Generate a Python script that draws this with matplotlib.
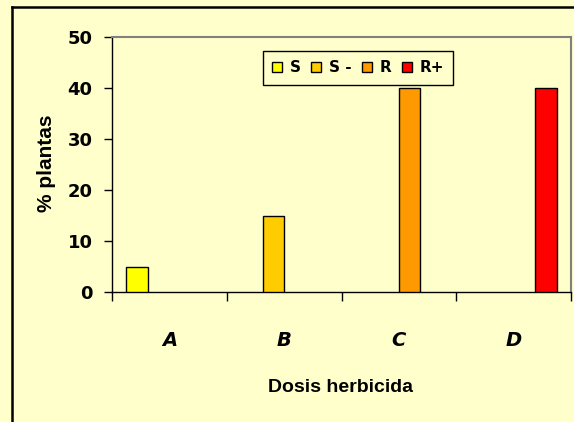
import numpy as np
import matplotlib
matplotlib.use("Agg")
import matplotlib.pyplot as plt
from matplotlib.lines import Line2D
from matplotlib.patches import Patch

# data
categories = ["A", "B", "C", "D"]
series = ["S", "S -", "R", "R+"]
values_S = [5, 0, 0, 0]
values_Sm = [0, 15, 0, 0]
values_R = [0, 0, 40, 0]
values_Rp = [0, 0, 0, 40]
colors = ["#FFFF00", "#FFCC00", "#FF9900", "#FF0000"]
yticks = [0, 10, 20, 30, 40, 50]

bg = "#FFFFCC"
W, H = 574, 422

fig = plt.figure(figsize=(W / 100, H / 100), dpi=100, facecolor=bg)
ax = fig.add_axes([112 / W, 1 - 292 / H, (571 - 112) / W, (292 - 37) / H])
ax.set_facecolor(bg)

x = np.arange(len(categories))
bw = 0.187
all_vals = [values_S, values_Sm, values_R, values_Rp]
handles = []
for k, (vals, name, c) in enumerate(zip(all_vals, series, colors)):
    bars = ax.bar(x + (k - 1.5) * bw, vals, width=bw, color=c,
                  edgecolor="black", linewidth=1.0, zorder=3)
    for b, v in zip(bars, vals):
        if v == 0:
            b.set_visible(False)
    handles.append(Patch(facecolor=c, edgecolor="black", linewidth=1.0, label=name))

ax.set_xlim(-0.5, len(categories) - 0.5)
ax.set_ylim(0, 50)
ax.set_yticks(yticks)
ax.set_yticklabels([str(t) for t in yticks], fontsize=13, fontweight="bold",
                   family="DejaVu Sans")
ax.tick_params(axis="y", direction="out", length=6, width=1.0, pad=8)

ax.set_xticks(x)
ax.set_xticklabels(categories, fontsize=14, fontweight="bold", style="italic",
                   family="DejaVu Sans")
ax.tick_params(axis="x", which="major", length=0, pad=28)
ax.set_xticks(np.arange(-0.5, len(categories)), minor=True)
ax.tick_params(axis="x", which="minor", direction="out", length=6.5, width=1.0)

for s in ["left", "bottom"]:
    ax.spines[s].set_color("black")
    ax.spines[s].set_linewidth(1.0)
for s in ["top", "right"]:
    ax.spines[s].set_color("#808080")
    ax.spines[s].set_linewidth(1.5)

fig.text(341 / W, 1 - 387 / H, "Dosis herbicida", ha="center", va="center",
         fontsize=14, fontweight="bold", family="Liberation Sans")
fig.text(46 / W, 1 - 163 / H, "% plantas", ha="center", va="center",
         rotation=90, fontsize=15, fontweight="bold", family="Liberation Sans")

leg = ax.legend(handles=handles, loc="center", bbox_to_anchor=(358 / W, 1 - 68 / H),
                bbox_transform=fig.transFigure, ncol=4, frameon=True,
                fancybox=False, shadow=False, edgecolor="black", facecolor=bg,
                framealpha=1, prop={"family": "DejaVu Sans", "weight": "bold", "size": 11},
                handlelength=0.65, handleheight=0.65, handletextpad=0.5,
                columnspacing=0.7, borderpad=0.6, borderaxespad=0)
leg.get_frame().set_linewidth(1.0)

# outer chart frame (only top and left edges are inside the picture)
fig.add_artist(Line2D([11.7 / W, 11.7 / W], [0, 1 - 6.5 / H], color="black",
                      linewidth=1.8, transform=fig.transFigure))
fig.add_artist(Line2D([11.7 / W, 1], [1 - 6.5 / H, 1 - 6.5 / H], color="black",
                      linewidth=1.8, transform=fig.transFigure))

fig.savefig("out.png", dpi=100, facecolor=bg)
